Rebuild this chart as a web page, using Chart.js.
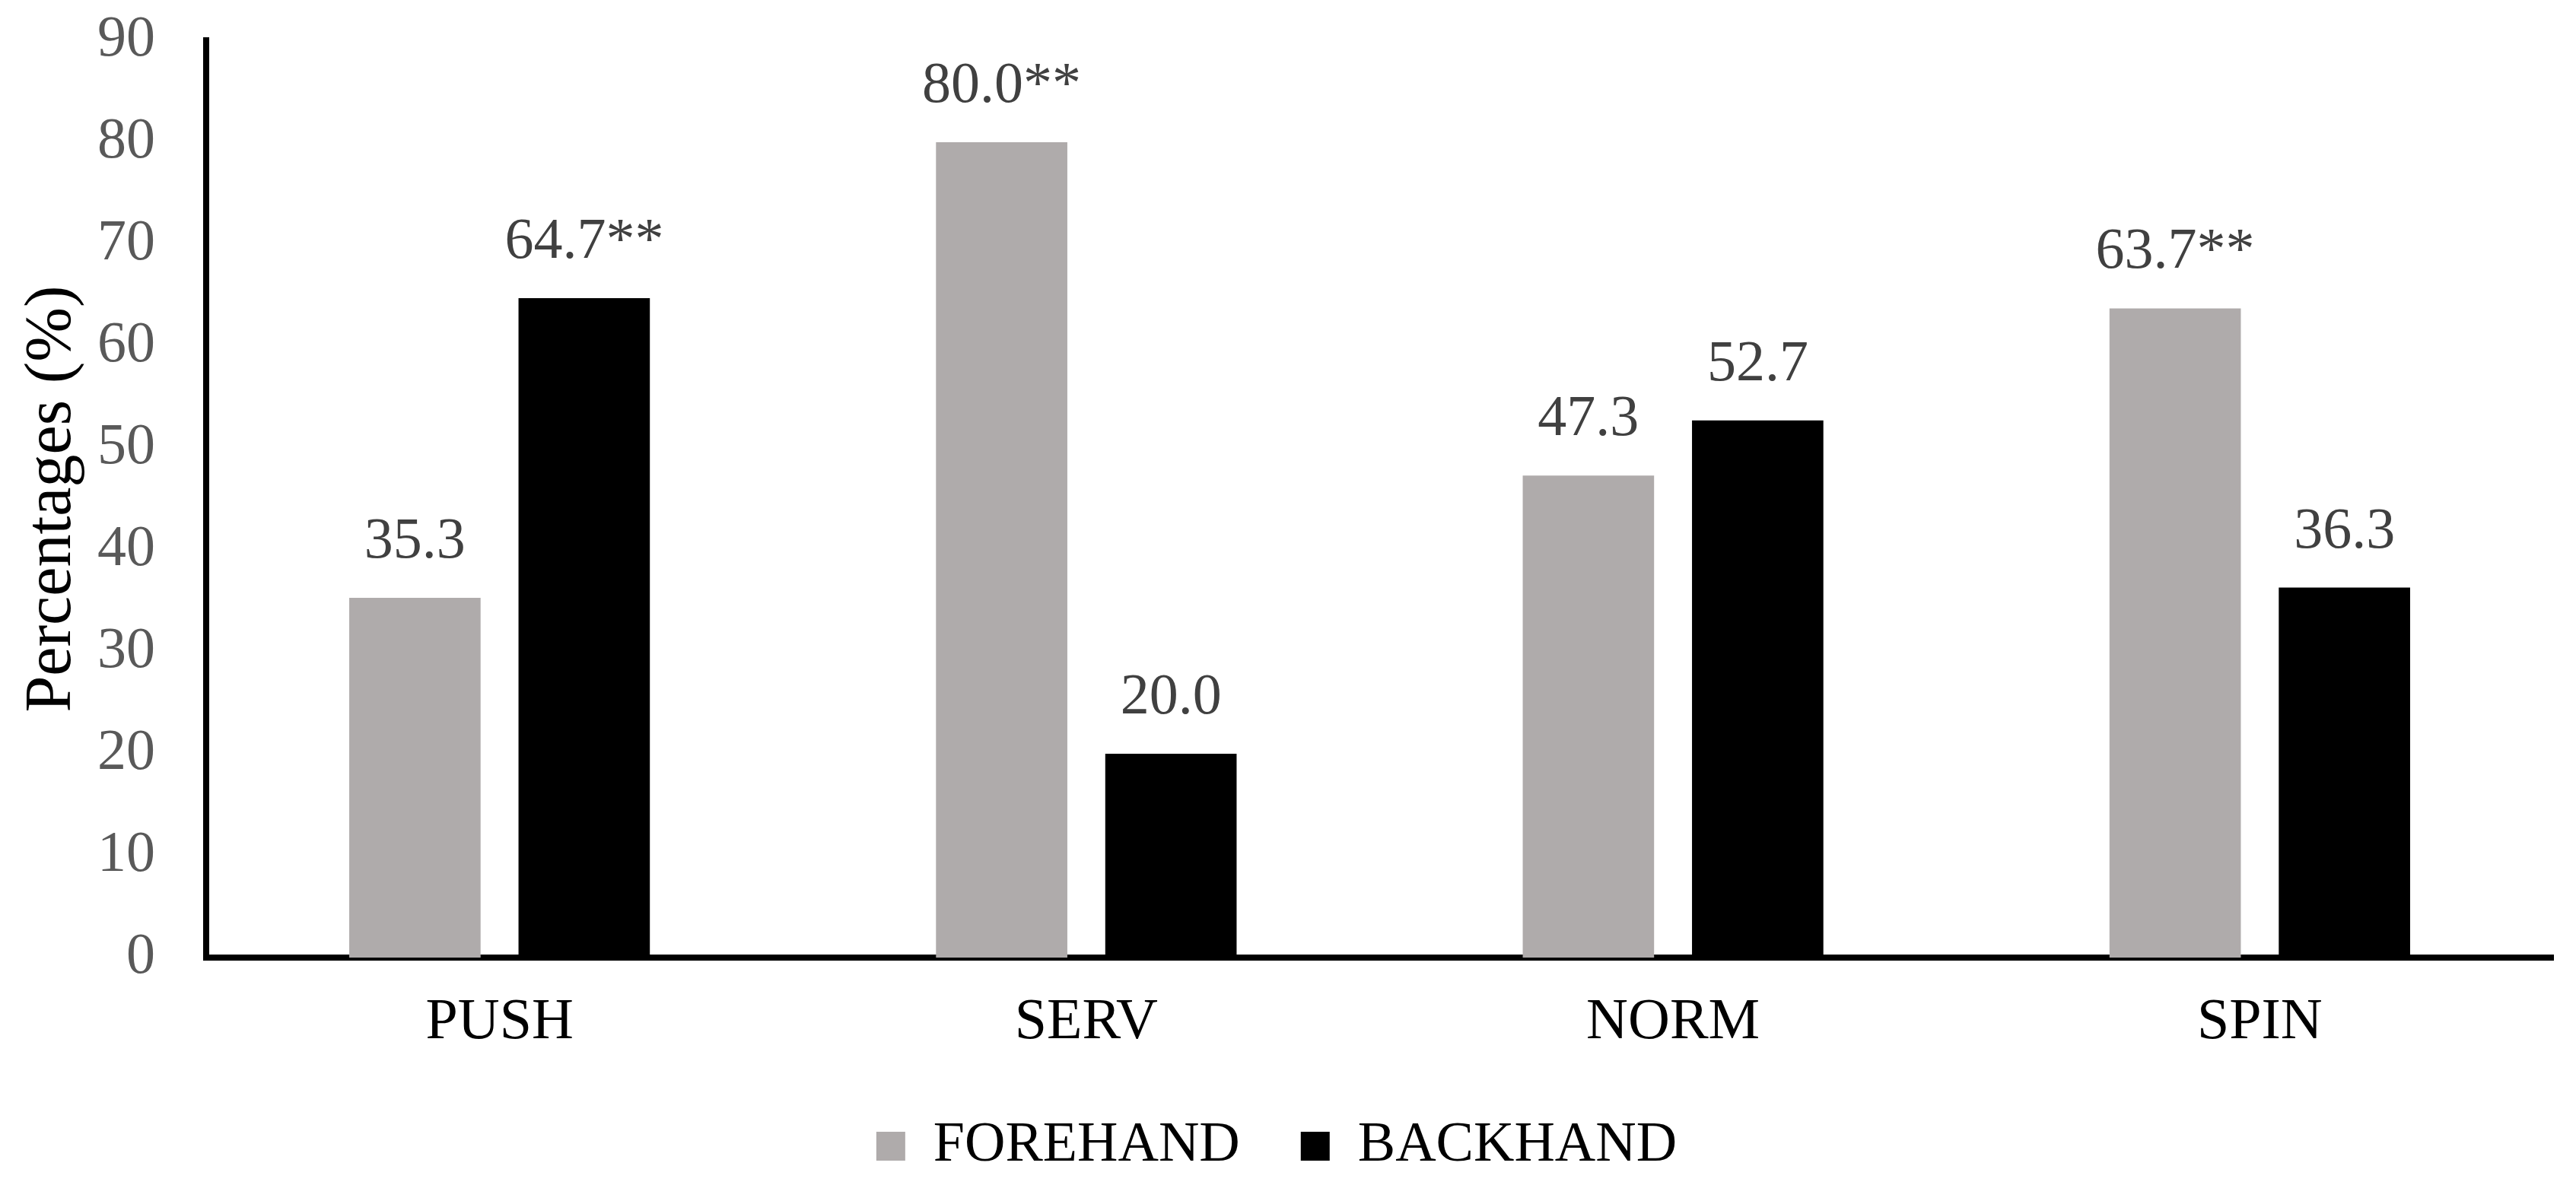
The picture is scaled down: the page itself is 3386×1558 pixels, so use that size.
<!DOCTYPE html>
<html>
<head>
<meta charset="utf-8">
<script src="https://cdn.jsdelivr.net/npm/chart.js@4.4.1/dist/chart.umd.min.js"></script>
<style>
  html, body { margin: 0; padding: 0; background: #fff; }
  #wrap { width: 3386px; height: 1558px; }
</style>
</head>
<body>
<div id="wrap"><canvas id="strokeChart"></canvas></div>
<script>
// data
const categories = ['PUSH', 'SERV', 'NORM', 'SPIN'];
const forehandValues = [35.3, 80.0, 47.3, 63.7];
const backhandValues = [64.7, 20.0, 52.7, 36.3];
// significance marks printed after the value
const forehandMarks = ['', '**', '', '**'];
const backhandMarks = ['**', '', '', ''];
const yMin = 0;
const yMax = 90;
const yStep = 10;

const serif = "'Liberation Serif', 'Times New Roman', serif";

// value labels above each bar
const valueLabels = {
    id: 'valueLabels',
    afterDatasetsDraw(chart) {
        const ctx = chart.ctx;
        ctx.save();
        ctx.font = '76px ' + serif;
        ctx.fillStyle = '#404040';
        ctx.textAlign = 'center';
        ctx.textBaseline = 'alphabetic';
        chart.data.datasets.forEach((ds, i) => {
            chart.getDatasetMeta(i).data.forEach((bar, j) => {
                ctx.fillText(ds.data[j].toFixed(1) + ds.marks[j], bar.x, bar.y - 53);
            });
        });
        ctx.restore();
    }
};

const ctx = document.getElementById('strokeChart').getContext('2d');
new Chart(ctx, {
    type: 'bar',
    data: {
        labels: categories,
        datasets: [
            { label: 'FOREHAND', data: forehandValues, marks: forehandMarks, backgroundColor: '#AFABAB', borderWidth: 0,
              categoryPercentage: 0.577, barPercentage: 0.776 },
            { label: 'BACKHAND', data: backhandValues, marks: backhandMarks, backgroundColor: '#000000', borderWidth: 0,
              categoryPercentage: 0.577, barPercentage: 0.776 }
        ]
    },
    options: {
        responsive: true,
        maintainAspectRatio: false,
        animation: false,
        devicePixelRatio: 1,
        layout: { padding: { top: 0, right: 30, left: 0, bottom: 4 } },
        plugins: {
            legend: {
                position: 'bottom',
                labels: {
                    color: '#000',
                    font: { size: 74, family: serif },
                    boxWidth: 38,
                    boxHeight: 38,
                    padding: 80
                }
            },
            tooltip: { enabled: false }
        },
        scales: {
            x: {
                grid: { display: false, drawTicks: false },
                border: { color: '#000', width: 8 },
                ticks: { color: '#000', font: { size: 76, family: serif }, padding: 40 },
                afterFit(scale) { scale.height = 131; }
            },
            y: {
                min: yMin,
                max: yMax,
                grid: { display: false, drawTicks: false },
                border: { color: '#000', width: 8 },
                ticks: { stepSize: yStep, color: '#595959', font: { size: 76, family: serif }, padding: 67 },
                title: {
                    display: true,
                    text: 'Percentages (%)',
                    color: '#000',
                    font: { size: 86, family: serif },
                    padding: { top: 18, bottom: 0 }
                },
                afterFit(scale) {
                    scale.width = 271;
                    scale.paddingTop = 53; // keep the 90 tick near the top edge
                }
            }
        }
    },
    plugins: [valueLabels]
});
</script>
</body>
</html>
